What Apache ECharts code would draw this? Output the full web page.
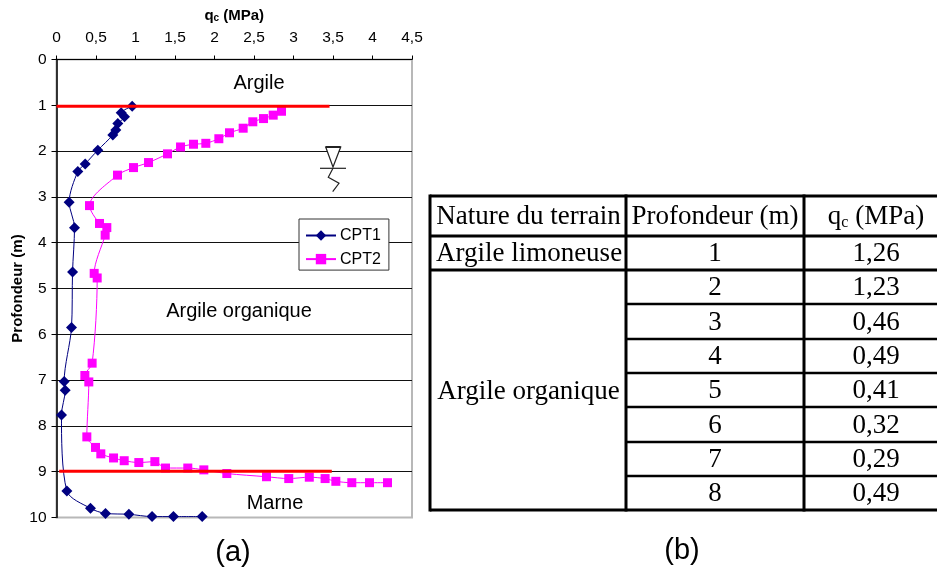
<!DOCTYPE html>
<html><head><meta charset="utf-8">
<style>html,body{margin:0;padding:0;background:#fff}#c{width:937px;height:569px}</style>
<script src="https://cdn.jsdelivr.net/npm/echarts@6/dist/echarts.min.js"></script>
</head><body><div id="c"></div>
<script>
const cpt1 = [[0.958,1.02],[0.819,1.165],[0.861,1.25],[0.776,1.40],[0.751,1.54],[0.713,1.65],[0.523,1.98],[0.363,2.28],[0.27,2.445],[0.16,3.115],[0.228,3.675],[0.203,4.64],[0.19,5.85],[0.097,7.03],[0.11,7.22],[0.063,7.76],[0.131,9.42],[0.43,9.80],[0.62,9.91],[0.916,9.93],[1.21,9.98],[1.48,9.98],[1.844,9.98]];
const cpt2 = [[2.848,1.13],[2.743,1.215],[2.62,1.29],[2.485,1.36],[2.363,1.50],[2.19,1.60],[2.055,1.73],[1.89,1.83],[1.734,1.85],[1.57,1.91],[1.405,2.06],[1.165,2.25],[0.975,2.36],[0.772,2.525],[0.418,3.19],[0.544,3.58],[0.637,3.67],[0.616,3.835],[0.477,4.67],[0.515,4.77],[0.451,6.63],[0.359,6.90],[0.409,7.04],[0.384,8.24],[0.494,8.47],[0.561,8.61],[0.722,8.70],[0.857,8.76],[1.042,8.80],[1.245,8.78],[1.38,8.92],[1.662,8.92],[1.865,8.96],[2.156,9.04],[2.658,9.11],[2.94,9.15],[3.2,9.12],[3.4,9.15],[3.536,9.21],[3.738,9.24],[3.962,9.24],[4.19,9.24]];
const redTop = [[0,1.02],[3.456,1.02]];
const redBottom = [[0.034,8.99],[3.485,8.99]];
const tableHeader = ['Nature du terrain','Profondeur (m)','q{sub|c} (MPa)'];
const terrainA = 'Argile limoneuse';
const terrainB = 'Argile organique';
const depths = ['1','2','3','4','5','6','7','8'];
const qcValues = ['1,26','1,23','0,46','0,49','0,41','0,32','0,29','0,49'];
const zones = [['Argile',259,83],['Argile organique',239,311],['Marne',275,503]];
const rowEdges = [196,236,270,304,339,373,407,442,476,510];
const colEdges = [430,626,804,937];

const serif = '"Liberation Serif","Times New Roman",serif';
const sans = '"Liberation Sans",Arial,sans-serif';
const fmt = v => String(v).replace('.',',');
const g = [];
const T = (text,x,y,size,font,opts) => g.push({type:'text',z:50,style:Object.assign({text,x,y,fill:'#000',font:size+'px '+font,align:'center',verticalAlign:'middle'},opts||{})});
const L = (x1,y1,x2,y2,w,c) => g.push({type:'line',z:40,shape:{x1,y1,x2,y2},style:{stroke:c||'#000',lineWidth:w}});

zones.forEach(z=>T(z[0],z[1],z[2],20,sans));
T('(a)',233,553,29,sans);
T('(b)',682,551,29,sans);

// water table symbol
g.push({type:'polygon',z:40,shape:{points:[[325.7,147],[340.7,147],[333,167]]},style:{fill:'#fff',stroke:'#222',lineWidth:1.2}});
L(325.7,147,340.7,147,2,'#222');
L(320,168.3,346,168.3,1.2,'#222');
g.push({type:'polyline',z:40,shape:{points:[[333,168.3],[328.3,177.3],[339,183.3],[332.7,191.7]]},style:{fill:'none',stroke:'#222',lineWidth:1.2}});

// table
rowEdges.forEach((y,i)=>L(i>=3?colEdges[1]:colEdges[0],y,937,y,i===0||i===9||i<3?3:2.5));
L(colEdges[0],rowEdges[9],colEdges[1],rowEdges[9],3);
L(colEdges[0],194.5,colEdges[0],511.5,3);
L(colEdges[1],194.5,colEdges[1],511.5,3);
L(colEdges[2],194.5,colEdges[2],511.5,3);
const sub = {rich:{sub:{font:'16px '+serif,verticalAlign:'bottom',fill:'#000',padding:[10,0,0,0]}}};
const rowMid = i => (rowEdges[i]+rowEdges[i+1])/2;
const TS = 27;
T(tableHeader[0],528.5,rowMid(0)+1,TS,serif);
T(tableHeader[1],715,rowMid(0)+1,TS,serif);
T(tableHeader[2],876,rowMid(0)+1,TS,serif,sub);
T(terrainA,529,rowMid(1)+1,TS,serif);
T(terrainB,528.5,(rowEdges[2]+rowEdges[9])/2+2,TS,serif);
depths.forEach((d,i)=>{T(d,715,rowMid(i+1)+1,TS,serif);T(qcValues[i],876,rowMid(i+1)+1,TS,serif);});

const chart = echarts.init(document.getElementById('c'));
const redSeries = d => ({type:'line',data:d,symbol:'none',silent:true,z:6,lineStyle:{color:'#ff0000',width:3},itemStyle:{color:'#ff0000'}});
chart.setOption({
  animation:false,
  backgroundColor:'#fff',
  grid:{left:56.5,top:59.5,width:355.5,height:458,show:true,borderColor:'#b8b8b8',borderWidth:2,backgroundColor:'#fff'},
  xAxis:{type:'value',position:'top',min:0,max:4.5,interval:0.5,
    name:'q{sub|c} (MPa)',nameLocation:'middle',nameGap:36,
    nameTextStyle:{fontFamily:sans,fontWeight:'bold',fontSize:15,color:'#000',rich:{sub:{fontFamily:sans,fontWeight:'bold',fontSize:10,color:'#000',padding:[6,0,0,0]}}},
    axisLine:{show:true,lineStyle:{color:'#000',width:1}},
    axisTick:{show:true,length:4,lineStyle:{color:'#000'}},
    axisLabel:{show:true,margin:14,fontFamily:sans,fontSize:15.5,color:'#000',formatter:fmt,showMinLabel:true,showMaxLabel:true},
    splitLine:{show:false}},
  yAxis:{type:'value',inverse:true,min:0,max:10,interval:1,
    name:'Profondeur (m)',nameLocation:'middle',nameGap:31,
    nameTextStyle:{fontFamily:sans,fontWeight:'bold',fontSize:15,color:'#000'},
    axisLine:{show:true,lineStyle:{color:'#000',width:1.5}},
    axisTick:{show:true,length:5,lineStyle:{color:'#000'}},
    axisLabel:{show:true,margin:10,fontFamily:sans,fontSize:15.5,color:'#000',formatter:fmt,showMinLabel:true,showMaxLabel:true},
    splitLine:{show:true,showMinLine:false,showMaxLine:false,lineStyle:{color:'#111',width:1}}},
  legend:{show:true,data:['CPT1','CPT2'],orient:'vertical',left:299,top:219,padding:[8.5,8,3,6],itemGap:7.6,itemWidth:30,itemHeight:13,
    backgroundColor:'#fff',borderColor:'#333',borderWidth:1,borderRadius:0,z:20,
    textStyle:{fontFamily:sans,fontSize:16,color:'#000',padding:[0,0,0,-1]}},
  series:[
    {name:'CPT1',type:'line',data:cpt1,smooth:0.3,symbol:'diamond',symbolSize:11,z:3,
     lineStyle:{color:'#000080',width:1},itemStyle:{color:'#000080'}},
    {name:'CPT2',type:'line',data:cpt2,smooth:0.3,symbol:'rect',symbolSize:9,z:4,
     lineStyle:{color:'#ff00ff',width:1},itemStyle:{color:'#ff00ff'}},
    redSeries(redTop),
    redSeries(redBottom)
  ],
  graphic:g
});
</script></body></html>
